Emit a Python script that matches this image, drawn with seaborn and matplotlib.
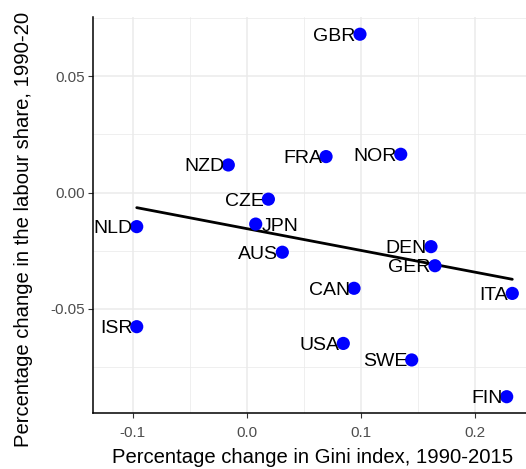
import matplotlib
matplotlib.use("Agg")
import matplotlib.pyplot as plt
import pandas as pd
import seaborn as sns
from matplotlib.ticker import MultipleLocator

# Data
countries = ["GBR", "NZD", "FRA", "NOR", "CZE", "NLD", "JPN", "AUS",
             "DEN", "GER", "CAN", "ITA", "ISR", "USA", "SWE", "FIN"]
gini_change = [0.099, -0.0163, 0.0693, 0.1347, 0.0188, -0.0965, 0.0077, 0.031,
               0.1612, 0.1647, 0.0938, 0.2324, -0.0965, 0.0844, 0.1443, 0.2275]
labour_change = [0.0681, 0.0119, 0.0155, 0.0165, -0.0028, -0.0146, -0.0135, -0.0256,
                 -0.0232, -0.0314, -0.0411, -0.0433, -0.0576, -0.0648, -0.0719, -0.0877]

df = pd.DataFrame({"country": countries, "gini": gini_change, "labour": labour_change})

sns.set_theme(style="whitegrid")
plt.rcParams["font.family"] = ["Liberation Sans", "DejaVu Sans"]

fig = plt.figure(figsize=(5.26, 4.69), dpi=100)
ax = fig.add_axes([93 / 526, 56 / 469, 433 / 526, 396 / 469])

sns.regplot(data=df, x="gini", y="labour", ax=ax, ci=None, truncate=True,
            scatter_kws={"s": 0},
            line_kws={"color": "black", "lw": 2.0, "zorder": 2})
sns.scatterplot(data=df, x="gini", y="labour", ax=ax, color="#0000FF",
                s=90, edgecolor="none", zorder=3)

for _, row in df.iterrows():
    if row["country"] == "JPN":
        ha, dx = "left", 4
    else:
        ha, dx = "right", -3
    ax.annotate(row["country"], (row["gini"], row["labour"]), xytext=(dx, 0),
                textcoords="offset points", ha=ha, va="center_baseline",
                fontsize=14, color="black", zorder=4, annotation_clip=False,
                clip_on=True)

ax.set_xlim(-0.1348, 0.2444)
ax.set_ylim(-0.0947, 0.0755)
ax.xaxis.set_major_locator(MultipleLocator(0.1))
ax.xaxis.set_minor_locator(MultipleLocator(0.05))
ax.yaxis.set_major_locator(MultipleLocator(0.05))
ax.yaxis.set_minor_locator(MultipleLocator(0.025))
ax.xaxis.set_major_formatter(matplotlib.ticker.FuncFormatter(lambda v, p: f"{v:.1f}"))
ax.yaxis.set_major_formatter(matplotlib.ticker.FuncFormatter(lambda v, p: f"{v:.2f}"))

ax.grid(True, which="major", color="#EBEBEB", lw=1.1)
ax.grid(True, which="minor", color="#EBEBEB", lw=0.55)
ax.set_axisbelow(True)
ax.set_facecolor("white")

for s in ["top", "right"]:
    ax.spines[s].set_visible(False)
for s in ["left", "bottom"]:
    ax.spines[s].set_visible(True)
    ax.spines[s].set_color("black")
    ax.spines[s].set_linewidth(1.1)

ax.tick_params(axis="both", which="major", length=3.5, width=0.8, color="#333333",
               labelsize=11, labelcolor="#4D4D4D", left=True, bottom=True)
ax.tick_params(axis="x", pad=6)
ax.tick_params(axis="y", pad=2)
ax.tick_params(axis="both", which="minor", length=0)

ax.set_xlabel("Percentage change in Gini index, 1990-2015", fontsize=14.6, color="black")
ax.xaxis.set_label_coords(0.5 + 3 / 433, -0.088)
# the reference shows the y title only up to "1990-20"
ax.set_ylabel("Percentage change in the labour share, 1990-20", fontsize=14.6,
              color="black", loc="bottom")
ax.yaxis.set_label_coords(-0.1386, -0.086)

fig.savefig("out.png", dpi=100)
